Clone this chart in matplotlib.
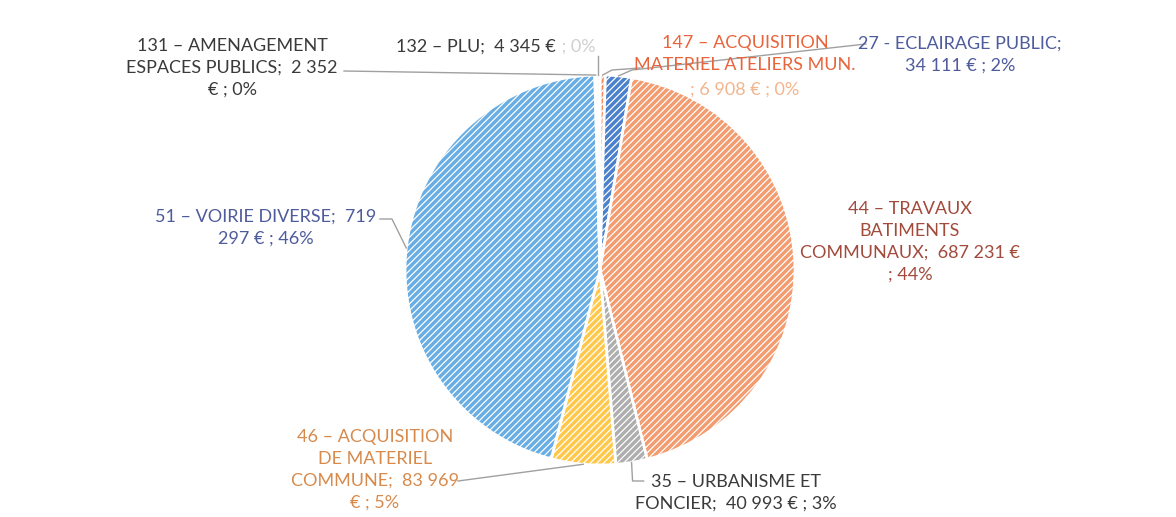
import numpy as np
import matplotlib.pyplot as plt

# data (clockwise from 12 o'clock)
codes = ["147", "27", "44", "35", "46", "51", "131", "132"]
values = [6908, 34111, 687231, 40993, 83969, 719297, 2352, 4345]
colors = ["#F08A5D", "#4A80CC", "#F39C70", "#AEAEAE", "#FFC84A", "#68AEE4", "#F4F4F4", "#F4F4F4"]

W, H = 1176, 517
CX, CY, R = 600, 270, 195

plt.rcParams['font.family'] = ['Lato', 'DejaVu Sans']
plt.rcParams['hatch.linewidth'] = 0.9

fig = plt.figure(figsize=(W / 100, H / 100), dpi=100)
ax = fig.add_axes([0, 0, 1, 1])


def Y(y):
    # image y (top-down) -> data y
    return H - y


wedges, _ = ax.pie(values, colors=colors, startangle=90, counterclock=False,
                   center=(CX, Y(CY)), radius=R, frame=True,
                   wedgeprops=dict(edgecolor='white', linewidth=2.0, hatch='/////'))
ax.set_xlim(0, W)
ax.set_ylim(0, H)
ax.axis('off')

# anchor on the rim at each slice's mid angle
cum = np.cumsum([0] + values)
tot = cum[-1]
mid = {}
for i, c in enumerate(codes):
    a = np.deg2rad((cum[i] + cum[i + 1]) / 2 / tot * 360)
    mid[c] = (CX + R * np.sin(a), CY - R * np.cos(a))

fs = 13
gray = "#3A3A3A"
blue = "#4E5B9C"


def label(x, y, txt, color, size=fs):
    ax.text(x, Y(y), txt, color=color, fontsize=size, ha='center', va='center',
            linespacing=1.45)


def leader(pts):
    xs = [p[0] for p in pts]
    ys = [Y(p[1]) for p in pts]
    ax.plot(xs, ys, color="#A0A0A0", lw=1.0, zorder=1)


label(232, 68, "131 – AMENAGEMENT\nESPACES PUBLICS;  2 352\n€ ; 0%", gray)
leader([mid["131"], (344, 71)])

ax.text(556, Y(47), "132 – PLU;  4 345 €", color=gray, fontsize=fs, ha='right', va='center')
ax.text(557, Y(47), " ; 0%", color="#D0D0D0", fontsize=fs, ha='left', va='center')
leader([mid["132"], (mid["132"][0], 56)])

label(745, 54, "147 – ACQUISITION\nMATERIEL ATELIERS MUN.", "#E8643C")
label(745, 90, "; 6 908 € ; 0%", "#F2B58E")
leader([mid["147"], (612, 70), (640, 68)])

label(960, 55, "27 - ECLAIRAGE PUBLIC;\n34 111 € ; 2%", blue)
leader([mid["27"], (632, 70), (866, 44)])

label(910, 242, "44 – TRAVAUX\nBATIMENTS\nCOMMUNAUX;  687 231 €\n; 44%", "#A24A3C")

label(266, 228, "51 – VOIRIE DIVERSE;  719\n297 € ; 46%", blue)
leader([mid["51"], (392, 219), (380, 219)])

label(375, 470, "46 – ACQUISITION\nDE MATERIEL\nCOMMUNE;  83 969\n€ ; 5%", "#D88A4C")
leader([mid["46"], (458, 481)])

label(736, 493, "35 – URBANISME ET\nFONCIER;  40 993 € ; 3%", gray)
leader([mid["35"], (mid["35"][0] + 1, 481), (mid["35"][0] + 12, 481)])

fig.savefig("out.png", dpi=100, facecolor='white')
